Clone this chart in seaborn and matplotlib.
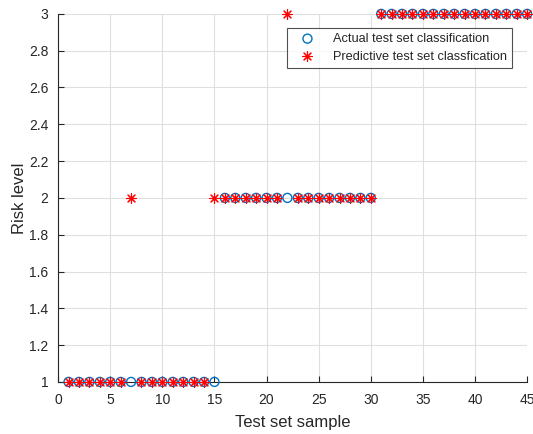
import numpy as np
import pandas as pd
import matplotlib
matplotlib.use("Agg")
import matplotlib.pyplot as plt
import seaborn as sns

samples = list(range(1, 46))
actual = [1]*15 + [2]*15 + [3]*15
predicted = [1, 1, 1, 1, 1, 1, 2, 1, 1, 1, 1, 1, 1, 1, 2,
             2, 2, 2, 2, 2, 2, 3, 2, 2, 2, 2, 2, 2, 2, 2,
             3, 3, 3, 3, 3, 3, 3, 3, 3, 3, 3, 3, 3, 3, 3]
xticks = [0, 5, 10, 15, 20, 25, 30, 35, 40, 45]
yticks = [1, 1.2, 1.4, 1.6, 1.8, 2, 2.2, 2.4, 2.6, 2.8, 3]

df = pd.DataFrame({"sample": samples, "actual": actual, "predicted": predicted})

sns.set_style("white")
plt.rcParams['font.family'] = ['Liberation Sans', 'DejaVu Sans']

fig = plt.figure(figsize=(5.33, 4.34), dpi=100)
ax = fig.add_axes([0.109, 0.12, 0.88, 0.848])

sns.scatterplot(data=df, x="sample", y="actual", ax=ax, marker="o", s=42,
                facecolors="none", edgecolor="#0072BD", linewidth=1.0,
                label="Actual test set classification", clip_on=False, zorder=3)
sns.scatterplot(data=df, x="sample", y="predicted", ax=ax, marker=(8, 2, 0), s=50,
                color="#FF0000", edgecolor="#FF0000", linewidth=0.8,
                label="Predictive test set classfication", clip_on=False, zorder=4)

ax.set_xlim(0, 45)
ax.set_ylim(1, 3)
ax.set_xticks(xticks)
ax.set_yticks(yticks)
ax.set_yticklabels([f"{v:g}" for v in yticks])
ax.grid(True, color="#DFDFDF", linewidth=0.8)
ax.set_axisbelow(True)
for s in ["top", "right"]:
    ax.spines[s].set_visible(False)
for s in ["left", "bottom"]:
    ax.spines[s].set_color("#262626")
    ax.spines[s].set_linewidth(0.8)
ax.tick_params(direction="in", length=4, width=0.8, colors="#262626",
               labelsize=10, labelcolor="#262626", left=True, bottom=True)
ax.tick_params(axis="x", pad=8)
ax.tick_params(axis="y", pad=7)
ax.set_xlabel("Test set sample", fontsize=12, color="#262626", labelpad=6)
ax.set_ylabel("Risk level", fontsize=12, color="#262626", labelpad=1)

leg = ax.legend(loc="upper right", bbox_to_anchor=(0.968, 0.962), borderaxespad=0,
                fontsize=9.2, frameon=True, fancybox=False, edgecolor="#262626",
                handletextpad=0.8, borderpad=0.4, labelspacing=0.45,
                handlelength=2.4)
leg.get_frame().set_linewidth(0.8)

fig.savefig("out.png", dpi=100)
